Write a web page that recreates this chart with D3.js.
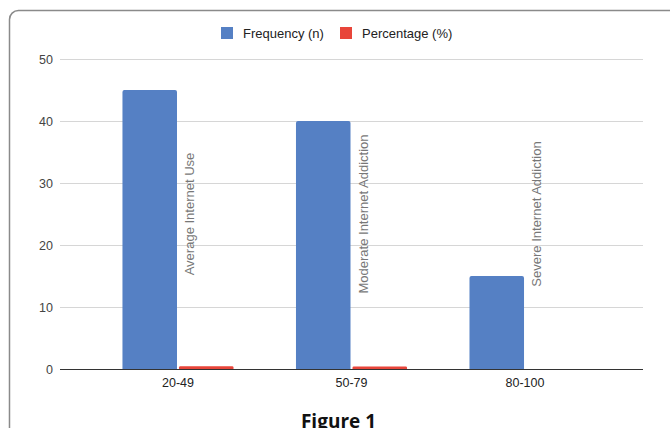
<!DOCTYPE html>
<html><head><meta charset="utf-8">
<script src="https://cdn.jsdelivr.net/npm/d3@7/dist/d3.min.js"></script>
<style>html,body{margin:0;padding:0;background:#fff;overflow:hidden}</style>
</head><body>
<svg id="c" width="670" height="428"></svg>
<script>
const categories = ["20-49", "50-79", "80-100"];
const frequency = [45, 40, 15];
const percentage = [0.45, 0.4, 0];
const annotations = ["Average Internet Use", "Moderate Internet Addiction", "Severe Internet Addiction"];
const seriesNames = ["Frequency (n)", "Percentage (%)"];
const yTicks = [0, 10, 20, 30, 40, 50];
const colors = ["#5580c4", "#e8453a"];
const title = "Figure 1";

const svg = d3.select("#c");
const font = "'Liberation Sans', Arial, sans-serif";

// frame
svg.append("rect").attr("x", 9.5).attr("y", 10.5).attr("width", 720).attr("height", 500)
  .attr("rx", 9).attr("fill", "none").attr("stroke", "#8a8a8a").attr("stroke-width", 1.5);

const pL = 60, pR = 643, pT = 59, pB = 369;
const y = d3.scaleLinear().domain([0, 50]).range([pB, pT]);
const x = d3.scaleBand().domain(categories).range([pL, pR]).paddingInner(0.36).paddingOuter(0.36);
const xs = d3.scaleBand().domain([0, 1]).range([0, x.bandwidth()]).paddingInner(0.035);

// gridlines
const yAxis = d3.axisLeft(y).tickValues(yTicks).tickSize(-(pR - pL)).tickPadding(7);
const gy = svg.append("g").attr("transform", `translate(${pL},0)`).call(yAxis);
gy.select(".domain").remove();
gy.selectAll(".tick line").attr("stroke", d => d === 0 ? "#333" : "#d6d6d6").attr("stroke-width", 1);
gy.selectAll(".tick text").attr("font-family", font).attr("font-size", 12.5).attr("fill", "#444");

const data = categories.map((c, i) => ({c, vals: [frequency[i], percentage[i]], ann: annotations[i]}));
const groups = svg.append("g").selectAll("g").data(data).join("g")
  .attr("transform", d => `translate(${x(d.c)},0)`);

groups.selectAll("path").data(d => d.vals.filter(v => v > 0).map((v, k) => ({v, k}))).join("path")
  .attr("fill", d => colors[d.k])
  .attr("d", d => {
    const x0 = xs(d.k), w = xs.bandwidth(), y0 = y(d.v), h = pB - y0;
    const r = Math.min(2, h / 2);
    return `M${x0},${pB} V${y0 + r} Q${x0},${y0} ${x0 + r},${y0} H${x0 + w - r} Q${x0 + w},${y0} ${x0 + w},${y0 + r} V${pB} Z`;
  });

// redraw baseline over bars
svg.append("line").attr("x1", pL).attr("x2", pR).attr("y1", pB + 0.5).attr("y2", pB + 0.5)
  .attr("stroke", "#333").attr("stroke-width", 1);

// annotations
groups.append("text")
  .attr("transform", d => `translate(${xs(0) + xs.bandwidth() + 17},${(pT + pB) / 2}) rotate(-90)`)
  .attr("text-anchor", "middle").attr("font-family", font).attr("font-size", 13)
  .attr("fill", "#777").text(d => d.ann);

// x labels
const gx = svg.append("g").attr("transform", `translate(0,${pB})`)
  .call(d3.axisBottom(x).tickSize(0).tickPadding(9));
gx.select(".domain").remove();
gx.selectAll(".tick text").attr("font-family", font).attr("font-size", 12.5).attr("fill", "#222");

// legend
const leg = svg.append("g").attr("font-family", font).attr("font-size", 13).attr("fill", "#222");
const legX = [221, 340];
seriesNames.forEach((n, i) => {
  leg.append("rect").attr("x", legX[i]).attr("y", 27).attr("width", 12).attr("height", 12).attr("fill", colors[i]);
  leg.append("text").attr("x", legX[i] + 22).attr("y", 37.5).text(n);
});

// title
svg.append("text").attr("x", 338.5).attr("y", 428).attr("text-anchor", "middle")
  .attr("font-family", "'Open Sans', 'Liberation Sans', sans-serif").attr("font-weight", "bold")
  .attr("font-size", 19).attr("fill", "#111").text(title);
</script>
</body></html>
